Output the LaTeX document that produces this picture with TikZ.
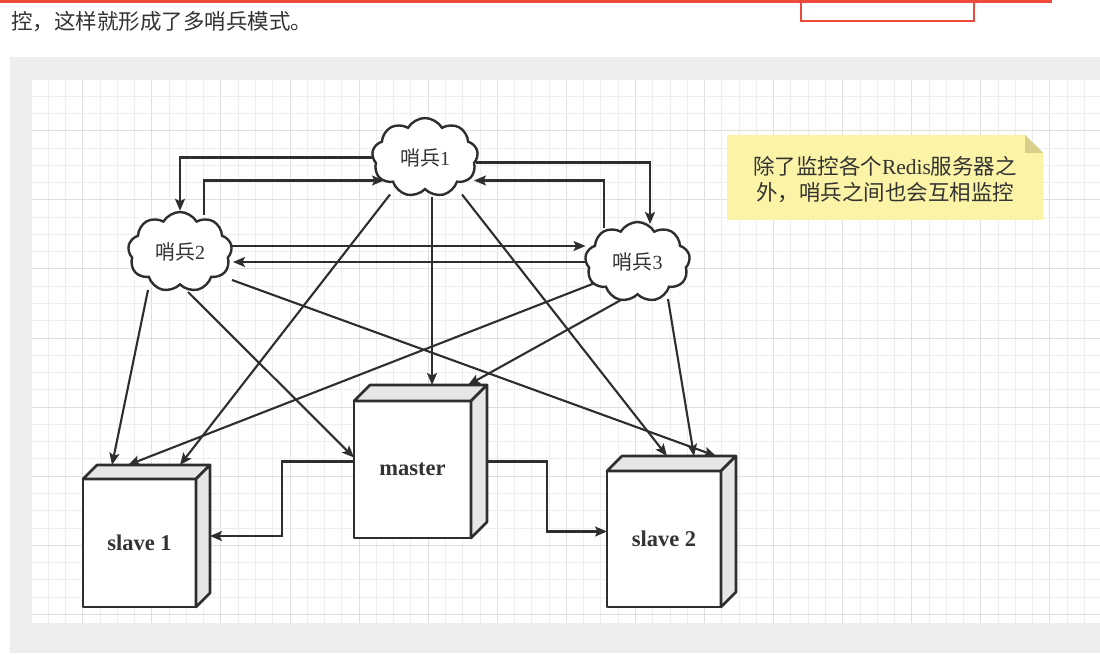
\documentclass[tikz,border=0pt]{standalone}
\usepackage{fontspec}
\setmainfont{Liberation Serif}
\newfontfamily\cjk{Noto Sans CJK SC}
\usetikzlibrary{shapes.symbols,arrows.meta,calc}
\definecolor{linec}{HTML}{2E2E2E}
\definecolor{txt}{HTML}{333333}
\definecolor{panel}{HTML}{EEEEEE}
\definecolor{gridminor}{HTML}{EEEEEE}
\definecolor{gridmajor}{HTML}{DFDFDF}
\definecolor{cubegray}{HTML}{E6E6E6}
\definecolor{notefill}{HTML}{FBF3A6}
\definecolor{notefold}{HTML}{D8D08A}
\definecolor{redline}{HTML}{EE4A3C}
\pgfdeclarelayer{back}
\pgfdeclarelayer{edges}
\pgfsetlayers{back,edges,main}
\tikzset{
  arr/.style={draw=linec, line width=2.1pt, -{Stealth[length=12pt,width=10pt,inset=2.5pt]}},
  cloudst/.style={cloud, cloud puffs=9, cloud puff arc=120, cloud ignores aspect,
    draw=linec, line width=2.4pt, fill=white, inner sep=0pt, text=txt,
    font=\cjk\fontsize{20}{24}\selectfont},
  cubeside/.style={fill=cubegray, draw=linec, line width=2.6pt, line join=round},
  cubefront/.style={fill=white, draw=linec, line width=2.6pt, line join=round},
  cubelabel/.style={text=txt, font=\bfseries\fontsize{22.5}{26}\selectfont, inner sep=0pt},
  anchorbox/.style={inner sep=0pt, outer sep=0pt, draw=none},
  minorline/.style={draw=gridminor, line width=0.9pt},
  majorline/.style={draw=gridmajor, line width=1pt},
}
% name, fx, fy, w, h, d, label
\newcommand{\mycube}[7]{%
  \pgfmathsetmacro\cubeW{#4+#6}%
  \pgfmathsetmacro\cubeH{#5+#6}%
  \pgfmathsetmacro\cubeX{#2+(#4+#6)/2}%
  \pgfmathsetmacro\cubeY{#3-#6+(#5+#6)/2}%
  \path[cubefront] (#2,#3) rectangle ({#2+#4},{#3+#5});
  \path[cubeside] (#2,#3) -- ({#2+#6},{#3-#6}) -- ({#2+#4+#6},{#3-#6}) -- ({#2+#4},#3) -- cycle;
  \path[cubeside] ({#2+#4},#3) -- ({#2+#4+#6},{#3-#6}) -- ({#2+#4+#6},{#3+#5-#6}) -- ({#2+#4},{#3+#5}) -- cycle;
  \node[cubelabel] (#1-label) at ({#2+#4/2},{#3+#5/2}) {#7};
  \node[anchorbox, minimum width=\cubeW pt, minimum height=\cubeH pt] (#1) at (\cubeX,\cubeY) {};
}
\begin{document}
\begin{tikzpicture}[x=1pt,y=-1pt]
\useasboundingbox (0,0) rectangle (1100,655);
\begin{pgfonlayer}{back}
\fill[white] (0,0) rectangle (1100,655);
% top strip
\fill[redline] (0,0) rectangle (1052,3);
\draw[redline, line width=2.5pt] (801,0) -- (801,21) -- (974,21) -- (974,0);
\node[anchor=west, text=txt, font=\cjk\fontsize{21.5}{24}\selectfont, inner sep=0pt] (intro) at (11,22) {控，这样就形成了多哨兵模式。};
% panel and grid
\fill[panel] (10,57) rectangle (1100,653);
\fill[white] (31,79) rectangle (1100,623);
\foreach \i in {0,...,61} {
  \pgfmathsetmacro\gx{31+\i*17.27}
  \pgfmathtruncatemacro\gm{mod(\i,4)}
  \ifnum\gm=3 \draw[majorline] (\gx,79) -- (\gx,623); \else \draw[minorline] (\gx,79) -- (\gx,623); \fi
}
\foreach \j in {0,...,31} {
  \pgfmathsetmacro\gy{79+\j*17.27}
  \pgfmathtruncatemacro\gm{mod(\j,4)}
  \ifnum\gm=3 \draw[majorline] (31,\gy) -- (1100,\gy); \else \draw[minorline] (31,\gy) -- (1100,\gy); \fi
}
% note
\node[anchorbox, minimum width=316pt, minimum height=85pt] (note) at (885,177.5) {};
\fill[notefill] (note.north west) -- ([xshift=-18pt]note.north east) -- ([yshift=-18pt]note.north east) -- (note.south east) -- (note.south west) -- cycle;
\fill[notefold] ([xshift=-18pt]note.north east) -- ([yshift=-18pt]note.north east) -- ([xshift=-18pt,yshift=-18pt]note.north east) -- cycle;
\node[text=txt, align=center, inner sep=0pt, font=\cjk\fontsize{21.5}{26}\selectfont] (notetext) at (885,180) {除了监控各个{\rmfamily Redis}服务器之\\外，哨兵之间也会互相监控};
\end{pgfonlayer}

% clouds
\node[cloudst, minimum width=106pt, minimum height=79pt] (s1) at (425,157.5) {哨兵{\rmfamily 1}};
\node[cloudst, minimum width=104pt, minimum height=80pt] (s2) at (180,252) {哨兵{\rmfamily 2}};
\node[cloudst, minimum width=105pt, minimum height=80pt] (s3) at (637.5,262) {哨兵{\rmfamily 3}};

% cubes
\mycube{master}{354}{401}{117}{137}{16}{master}
\mycube{slave1}{83}{479}{113}{128}{14}{slave 1}
\mycube{slave2}{607}{471}{114}{136}{15}{slave 2}

\begin{pgfonlayer}{edges}
% between sentinels
\draw[arr] (s1.west) -| (s2.north);
\draw[arr] ([shift={(24,-37)}]s2.center) |- ([shift={(-41,23)}]s1.center);
\draw[arr] ([shift={(51,5)}]s1.center) -| ([shift={(12.5,-38)}]s3.center);
\draw[arr] ([shift={(-33.5,-34)}]s3.center) |- ([shift={(49,23)}]s1.center);
\draw[arr] ([shift={(52,-6)}]s2.center) -- ([shift={(-52,-16)}]s3.center);
\draw[arr] ([shift={(-50,0)}]s3.center) -- ([shift={(53,10)}]s2.center);
% sentinel 2 to servers
\draw[arr] ([shift={(-32,38)}]s2.center) -- ([xshift=-34.5pt]slave1.north);
\draw[arr] ([shift={(8,40)}]s2.center) -- ([shift={(0,-4)}]master.west);
\draw[arr] ([shift={(52,28)}]s2.center) -- ([xshift=44.5pt]slave2.north);
% sentinel 1 to servers
\draw[arr] ([shift={(-35,37)}]s1.center) -- ([xshift=33.5pt]slave1.north);
\draw[arr] ([shift={(7,40)}]s1.center) -- ([xshift=11.5pt]master.north);
\draw[arr] ([shift={(37,37)}]s1.center) -- ([xshift=-4.5pt]slave2.north);
% sentinel 3 to servers
\draw[arr] ([shift={(-42.5,21)}]s3.center) -- ([xshift=-18.5pt]slave1.north);
\draw[arr] ([shift={(-7.5,33)}]s3.center) -- ([xshift=47.5pt]master.north);
\draw[arr] ([shift={(30.5,37)}]s3.center) -- ([xshift=22.5pt]slave2.north);
% replication
\draw[arr] (master.west) -| ($(master.west)!.5!(slave1.east)$) |- (slave1.east);
\draw[arr] (master.east) -| ($(master.east)!.5!(slave2.west)$) |- (slave2.west);
\end{pgfonlayer}
\end{tikzpicture}
\end{document}
